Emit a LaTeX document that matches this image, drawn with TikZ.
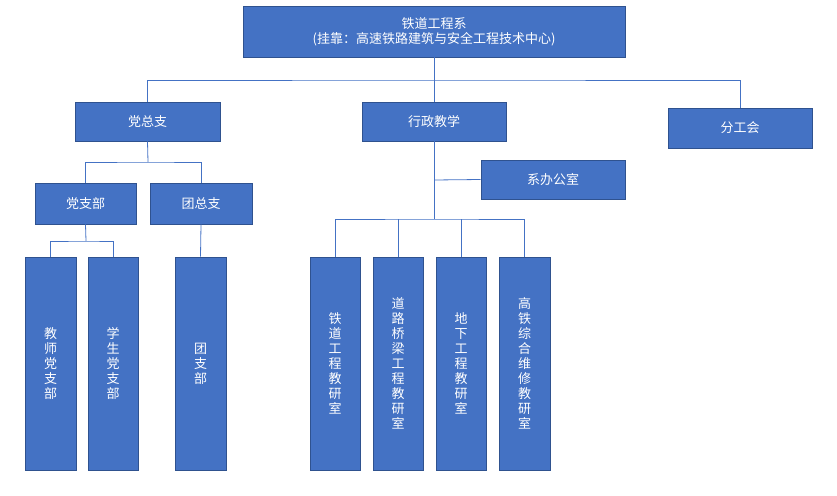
\documentclass[tikz,border=0pt]{standalone}
\usepackage{fontspec}
\setmainfont{Noto Sans CJK SC}
\begin{document}
\begin{tikzpicture}[x=1pt,y=-1pt,
  box/.style={draw=blue!30!black!70!cyan!80!blue, fill={rgb,255:red,68;green,114;blue,196}, draw={rgb,255:red,47;green,82;blue,143}, line width=0.8pt, text=white, font=\fontsize{13}{15}\selectfont, inner sep=0pt, align=center},
  ln/.style={draw={rgb,255:red,68;green,114;blue,196}, line width=0.8pt}]
\useasboundingbox (0,0) rectangle (837,495);
\newcommand{\bx}[6]{\node[box,minimum width=#4-#2,minimum height=#5-#3] (#1) at ({(#2+#4)/2},{(#3+#5)/2}) {#6};}
\bx{top}{243}{6}{625}{57}{铁道工程系\\(挂靠：高速铁路建筑与安全工程技术中心)}
\bx{dzz}{75}{102}{220}{141}{党总支}
\bx{xz}{362}{102}{506}{141}{行政教学}
\bx{fgh}{668}{108}{812}{148}{分工会}
\bx{xb}{481}{160}{625}{199}{系办公室}
\bx{dzb}{35}{183}{136}{224}{党支部}
\bx{tzz}{150}{183}{252}{224}{团总支}
\bx{js}{25}{257}{76}{470}{教\\师\\党\\支\\部}
\bx{xs}{88}{257}{138}{470}{学\\生\\党\\支\\部}
\bx{tzb}{175}{257}{226}{470}{团\\支\\部}
\bx{r1}{310}{257}{360}{470}{铁\\道\\工\\程\\教\\研\\室}
\bx{r2}{373}{257}{423}{470}{道\\路\\桥\\梁\\工\\程\\教\\研\\室}
\bx{r3}{436}{257}{486}{470}{地\\下\\工\\程\\教\\研\\室}
\bx{r4}{499}{257}{550}{470}{高\\铁\\综\\合\\维\\修\\教\\研\\室}
\draw[ln] (top.south) -- (434,80);
\draw[ln] (dzz.north) |- (434,80) -| (fgh.north);
\draw[ln] (xz.north) -- (434,80);
\draw[ln] (dzz.south) -- (148,162);
\draw[ln] (dzb.north) |- (148,162) -| (tzz.north);
\draw[ln] (dzb.south) -- (86,241);
\draw[ln] (js.north) |- (86,241) -| (xs.north);
\draw[ln] (tzz.south) -- (tzb.north);
\draw[ln] (xz.south) -- (434,219);
\draw[ln] (434,180) -- (xb.west);
\draw[ln] (r1.north) |- (434,219) -| (r4.north);
\draw[ln] (r2.north) -- (398,219);
\draw[ln] (r3.north) -- (461,219);
\end{tikzpicture}
\end{document}
